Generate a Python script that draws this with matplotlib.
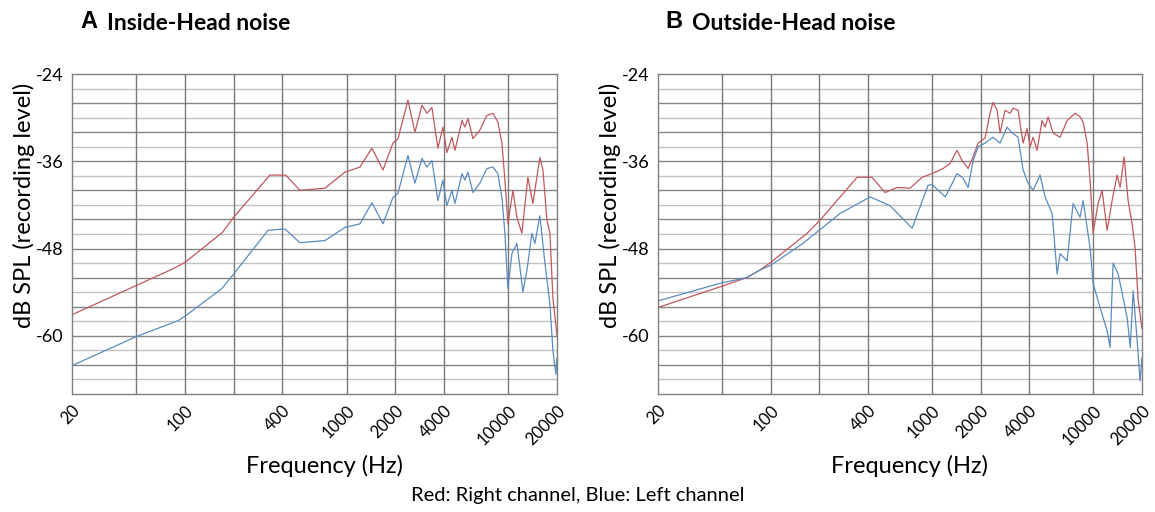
import matplotlib
matplotlib.use("Agg")
import matplotlib.pyplot as plt
from matplotlib.ticker import NullLocator

plt.rcParams['font.family'] = ['Lato', 'DejaVu Sans']

# panel A: inside-head noise
a_red_f = [20, 84, 100, 170, 200, 335, 420, 514, 734, 975, 1208, 1432, 1677, 1932, 2076,
           2394, 2644, 2922, 3136, 3368, 3668, 3938, 4168, 4477, 4674, 5168, 5388, 5624,
           6040, 6670, 7366, 8030, 8616, 9126, 9524, 9940, 10674, 11300, 12130, 13210,
           14190, 15670, 16370, 17330, 18080, 18870, 20000]
a_red_db = [-57.1, -50.8, -49.9, -45.8, -43.7, -37.9, -37.9, -40.0, -39.7, -37.5, -36.8,
            -34.2, -37.2, -33.5, -32.9, -27.6, -32.0, -28.3, -29.4, -28.6, -34.2, -31.3,
            -34.8, -32.7, -34.5, -30.4, -31.3, -30.1, -32.9, -31.7, -29.7, -29.4, -30.6,
            -33.5, -38.6, -44.6, -40.0, -43.7, -45.9, -38.2, -41.8, -35.5, -37.2, -44.1,
            -45.9, -54.8, -60.0]
a_blue_f = [20, 50, 91, 100, 169, 200, 326, 415, 514, 734, 975, 1208, 1432, 1677, 1932,
            2076, 2394, 2644, 2922, 3136, 3368, 3668, 3938, 4168, 4477, 4674, 5168, 5388,
            5624, 6040, 6670, 7366, 8030, 8616, 9126, 9524, 9940, 10520, 11300, 11800,
            12300, 13030, 13990, 14600, 15670, 16840, 18080, 18870, 19680, 20000]
a_blue_db = [-64.1, -60.1, -57.9, -57.3, -53.5, -51.5, -45.5, -45.3, -47.2, -46.9, -45.1,
             -44.6, -41.7, -44.6, -41.0, -40.4, -35.2, -39.0, -35.6, -36.8, -35.9, -41.4,
             -38.6, -42.1, -40.0, -41.8, -37.7, -38.6, -37.5, -40.3, -39.0, -37.0, -36.8,
             -37.7, -41.0, -45.9, -53.5, -48.7, -47.3, -50.6, -54.0, -51.0, -45.9, -47.3,
             -43.5, -50.0, -55.6, -62.0, -65.3, -63.0]

# panel B: outside-head noise
b_red_f = [20, 48, 71, 85, 100, 168, 202, 343, 424, 511, 607, 730, 867, 1000, 1170, 1292,
           1428, 1534, 1672, 1796, 1928, 2130, 2286, 2386, 2528, 2638, 2832, 3044, 3176,
           3412, 3664, 3880, 4050, 4226, 4474, 4804, 5016, 5236, 5624, 6214, 6868, 7698,
           8268, 8630, 9140, 9536, 9950, 10690, 11320, 12160, 13060, 14020, 14640, 15490,
           16400, 17370, 18120, 18920, 20000]
b_red_db = [-56.1, -53.3, -52.0, -51.0, -49.9, -45.9, -44.1, -38.2, -38.2, -40.3, -39.6,
            -39.7, -38.2, -37.7, -37.0, -36.3, -34.5, -35.9, -37.0, -35.4, -33.5, -32.8,
            -29.4, -27.9, -29.0, -32.1, -29.0, -29.4, -28.7, -29.0, -33.5, -31.5, -34.0,
            -32.7, -34.5, -30.4, -31.3, -29.9, -32.1, -32.7, -30.4, -29.4, -29.9, -30.6,
            -33.5, -38.6, -45.9, -41.8, -40.0, -45.5, -41.4, -37.9, -39.6, -35.4, -41.4,
            -44.6, -47.9, -55.0, -59.0]
b_blue_f = [20, 48, 71, 85, 100, 158, 268, 413, 548, 752, 944, 1000, 1208, 1428, 1553,
            1672, 1796, 1928, 2130, 2386, 2638, 2916, 3132, 3412, 3664, 3934, 4226, 4668,
            5016, 5546, 5956, 6214, 6868, 7482, 8268, 8630, 9536, 9950, 10990, 12160,
            12680, 13240, 14230, 15280, 16180, 16910, 17630, 18670, 19460, 20000]
b_blue_db = [-55.2, -52.8, -52.0, -51.0, -50.3, -47.3, -43.2, -40.9, -42.1, -45.2, -39.3,
             -39.2, -40.9, -37.7, -38.3, -39.6, -35.9, -34.0, -33.5, -32.7, -33.5, -31.3,
             -32.1, -32.7, -37.2, -39.0, -40.0, -37.9, -40.9, -43.2, -51.5, -48.7, -49.7,
             -41.8, -43.7, -41.4, -47.9, -52.8, -56.1, -59.3, -61.6, -50.0, -51.5, -54.8,
             -57.5, -61.6, -53.8, -60.7, -66.2, -63.0]

x_ticks = [20, 100, 400, 1000, 2000, 4000, 10000, 20000]
x_grid = [50, 100, 200, 400, 1000, 2000, 4000, 10000]
y_ticks = [-24, -36, -48, -60]

RED = '#c0585c'
BLUE = '#5a8cbf'

fig = plt.figure(figsize=(11.55, 5.12), dpi=100)
ax_a = fig.add_axes([72 / 1155, 1 - 394 / 512, 485 / 1155, 320 / 512])
ax_b = fig.add_axes([658 / 1155, 1 - 394 / 512, 484 / 1155, 320 / 512])


def setup(ax):
    ax.set_xscale('log')
    ax.set_xlim(20, 20000)
    ax.set_ylim(-68, -24)
    for y in range(-66, -24, 2):
        major = (y + 24) % 4 == 0
        ax.axhline(y, color='#858585' if major else '#c2c2c2', lw=1.0, zorder=0)
    for x in x_grid:
        ax.axvline(x, color='#7a7a7a', lw=1.0, zorder=0)
    ax.xaxis.set_minor_locator(NullLocator())
    ax.set_xticks(x_ticks)
    ax.set_xticklabels([str(t) for t in x_ticks], rotation=45, ha='right',
                       rotation_mode='anchor', fontsize=12)
    ax.set_yticks(y_ticks)
    ax.set_yticklabels([str(t) for t in y_ticks], fontsize=13)
    ax.tick_params(length=0, pad=6)
    for s in ax.spines.values():
        s.set_color('#808080')
        s.set_linewidth(1.0)
    ax.set_xlabel('Frequency (Hz)', fontsize=17)
    ax.xaxis.set_label_coords(0.52, -0.19)
    ax.set_ylabel('dB SPL (recording level)', fontsize=17)
    ax.yaxis.set_label_coords(-0.077, 0.59)


setup(ax_a)
setup(ax_b)

ax_a.plot(a_red_f, a_red_db, color=RED, lw=0.9)
ax_a.plot(a_blue_f, a_blue_db, color=BLUE, lw=0.9)
ax_b.plot(b_red_f, b_red_db, color=RED, lw=0.9)
ax_b.plot(b_blue_f, b_blue_db, color=BLUE, lw=0.9)

fig.text(80 / 1155, 1 - 22 / 512, 'A', fontsize=17, fontweight='bold',
         family='Liberation Sans', va='center')
fig.text(107 / 1155, 1 - 23 / 512, 'Inside-Head noise', fontsize=16.5, fontweight='bold',
         va='center')
fig.text(665 / 1155, 1 - 22 / 512, 'B', fontsize=17, fontweight='bold',
         family='Liberation Sans', va='center')
fig.text(692 / 1155, 1 - 23 / 512, 'Outside-Head noise', fontsize=16.5, fontweight='bold',
         va='center')
fig.text(0.5, 1 - 495 / 512, 'Red: Right channel, Blue: Left channel', fontsize=14.5,
         ha='center', va='center')

fig.savefig('out.png', dpi=100)
